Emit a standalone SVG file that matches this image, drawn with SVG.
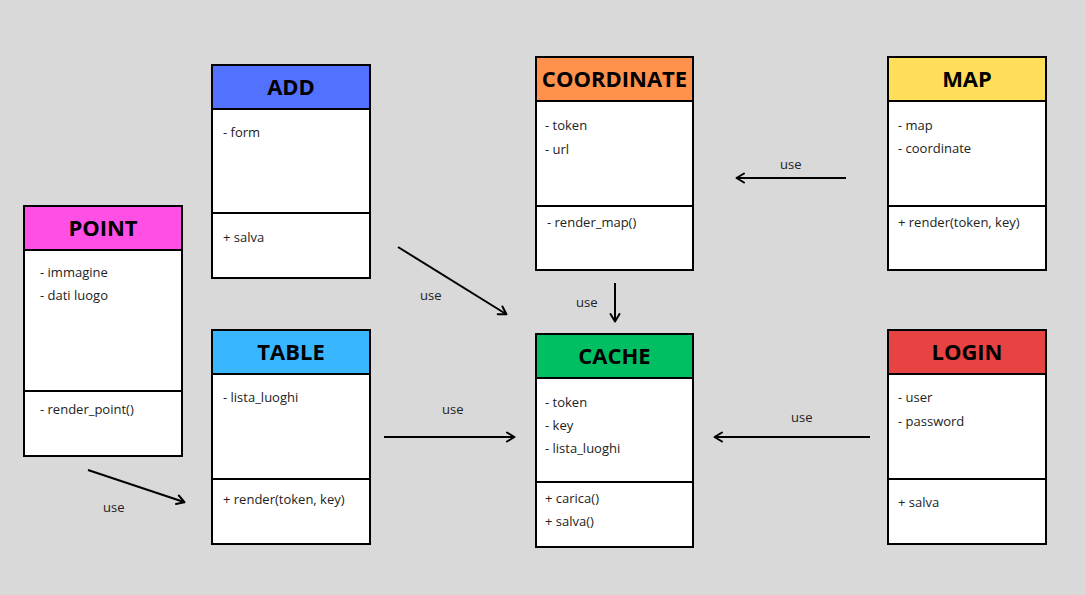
<svg xmlns="http://www.w3.org/2000/svg" width="1086" height="595" viewBox="0 0 1086 595">
<defs>
<marker id="arr" markerWidth="12" markerHeight="12" refX="9" refY="6" orient="auto" markerUnits="userSpaceOnUse">
<path d="M2,1.5 L9.5,6 L2,10.5" fill="none" stroke="#000" stroke-width="2" stroke-linecap="round" stroke-linejoin="round"/>
</marker>
<style>
.box{fill:#fff;stroke:#000;stroke-width:2}
.hd{stroke:#000;stroke-width:2}
.ln{stroke:#000;stroke-width:2}
.t{font-family:"Open Sans","Noto Sans",sans-serif;font-size:13px;fill:#222}
.h{font-family:"Open Sans","Noto Sans",sans-serif;font-size:22px;font-weight:bold;fill:#000;text-anchor:middle}
.u{font-family:"Open Sans","Noto Sans",sans-serif;font-size:13px;fill:#222}
.c{stroke:#000;stroke-width:2;fill:none;marker-end:url(#arr)}
</style>
</defs>
<rect width="1086" height="595" fill="#d9d9d9"/>

<g id="point">
<rect class="box" x="24" y="206" width="158" height="250"/>
<rect class="hd" x="24" y="206" width="158" height="44" fill="#ff4fe4"/>
<line class="ln" x1="24" y1="391" x2="182" y2="391"/>
<text class="h" x="103" y="236">POINT</text>
<text class="t" x="40" y="277">- immagine</text>
<text class="t" x="40" y="300">- dati luogo</text>
<text class="t" x="40" y="414">- render_point()</text>
</g>

<g id="add">
<rect class="box" x="212" y="65" width="158" height="213"/>
<rect class="hd" x="212" y="65" width="158" height="44" fill="#5271ff"/>
<line class="ln" x1="212" y1="213" x2="370" y2="213"/>
<text class="h" x="291" y="95">ADD</text>
<text class="t" x="223" y="137">- form</text>
<text class="t" x="223" y="242">+ salva</text>
</g>

<g id="coordinate">
<rect class="box" x="536" y="57" width="157" height="213"/>
<rect class="hd" x="536" y="57" width="157" height="44" fill="#ff914d"/>
<line class="ln" x1="536" y1="206" x2="693" y2="206"/>
<text class="h" x="614.5" y="87">COORDINATE</text>
<text class="t" x="545" y="130">- token</text>
<text class="t" x="545" y="154">- url</text>
<text class="t" x="547" y="227">- render_map()</text>
</g>

<g id="map">
<rect class="box" x="888" y="57" width="158" height="213"/>
<rect class="hd" x="888" y="57" width="158" height="44" fill="#ffde59"/>
<line class="ln" x1="888" y1="206" x2="1046" y2="206"/>
<text class="h" x="967" y="87">MAP</text>
<text class="t" x="898" y="130">- map</text>
<text class="t" x="898" y="153">- coordinate</text>
<text class="t" x="898" y="227">+ render(token, key)</text>
</g>

<g id="table">
<rect class="box" x="212" y="330" width="158" height="214"/>
<rect class="hd" x="212" y="330" width="158" height="44" fill="#38b6ff"/>
<line class="ln" x1="212" y1="479" x2="370" y2="479"/>
<text class="h" x="291" y="360">TABLE</text>
<text class="t" x="223" y="402">- lista_luoghi</text>
<text class="t" x="223" y="504">+ render(token, key)</text>
</g>

<g id="cache">
<rect class="box" x="536" y="334" width="157" height="213"/>
<rect class="hd" x="536" y="334" width="157" height="44" fill="#00bf63"/>
<line class="ln" x1="536" y1="482" x2="693" y2="482"/>
<text class="h" x="614.5" y="364">CACHE</text>
<text class="t" x="545" y="407">- token</text>
<text class="t" x="545" y="430">- key</text>
<text class="t" x="545" y="453">- lista_luoghi</text>
<text class="t" x="545" y="503">+ carica()</text>
<text class="t" x="545" y="526">+ salva()</text>
</g>

<g id="login">
<rect class="box" x="888" y="330" width="158" height="214"/>
<rect class="hd" x="888" y="330" width="158" height="44" fill="#e84343"/>
<line class="ln" x1="888" y1="479" x2="1046" y2="479"/>
<text class="h" x="967" y="360">LOGIN</text>
<text class="t" x="898" y="402">- user</text>
<text class="t" x="898" y="426">- password</text>
<text class="t" x="898" y="507">+ salva</text>
</g>

<g id="connectors">
<line class="c" x1="398" y1="247" x2="506" y2="314"/>
<text class="u" x="420" y="300">use</text>
<line class="c" x1="615" y1="283" x2="615" y2="321"/>
<text class="u" x="576" y="307">use</text>
<line class="c" x1="846" y1="178" x2="737" y2="178"/>
<text class="u" x="780" y="169">use</text>
<line class="c" x1="384" y1="437" x2="514" y2="437"/>
<text class="u" x="442" y="414">use</text>
<line class="c" x1="870" y1="437" x2="715" y2="437"/>
<text class="u" x="791" y="422">use</text>
<line class="c" x1="88" y1="470" x2="184" y2="502"/>
<text class="u" x="103" y="512">use</text>
</g>
</svg>
